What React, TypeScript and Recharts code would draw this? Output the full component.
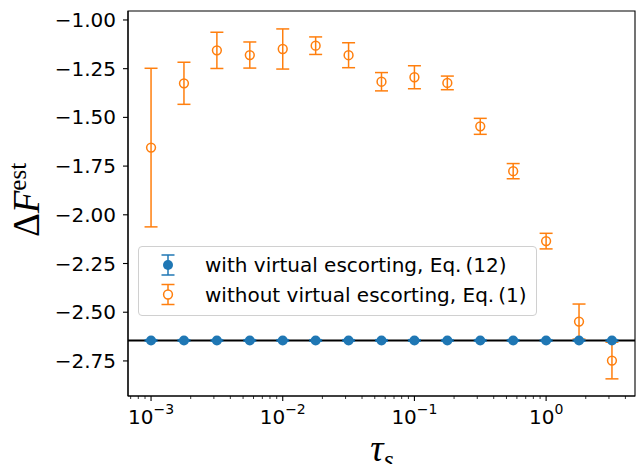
import {
  ScatterChart, Scatter, XAxis, YAxis, ErrorBar, ReferenceLine, ReferenceArea,
} from "recharts";

const BLUE = "#1f77b4";
const ORANGE = "#ff7f0e";

// tau_s sample points (log-spaced quarter decades)
const TAU = [0.001, 0.001778, 0.003162, 0.005623, 0.01, 0.01778, 0.03162, 0.05623, 0.1, 0.1778, 0.3162, 0.5623, 1, 1.778, 3.162];
const WITH_MEAN = [-2.645, -2.645, -2.645, -2.645, -2.645, -2.645, -2.645, -2.645, -2.645, -2.645, -2.645, -2.645, -2.645, -2.645, -2.645];
const WITH_ERR = [0.004, 0.004, 0.004, 0.004, 0.004, 0.004, 0.004, 0.004, 0.004, 0.004, 0.004, 0.004, 0.004, 0.004, 0.004];
const WITHOUT_MEAN = [-1.655, -1.325, -1.156, -1.18, -1.149, -1.132, -1.181, -1.317, -1.294, -1.323, -1.546, -1.776, -2.135, -2.548, -2.748];
const WITHOUT_ERR = [0.407, 0.108, 0.093, 0.067, 0.103, 0.045, 0.064, 0.047, 0.059, 0.035, 0.041, 0.039, 0.04, 0.09, 0.094];
const EXACT = -2.645;

const MAJOR_TICKS = [0.001, 0.01, 0.1, 1];
const MAJOR_EXP = ["\u22123", "\u22122", "\u22121", "0"];
const Y_TICKS = [-2.75, -2.5, -2.25, -2.0, -1.75, -1.5, -1.25, -1.0];

const X_MIN = Math.pow(10, -3.175);
const X_MAX = Math.pow(10, 0.675);
const Y_MIN = -2.93;
const Y_MAX = -0.954;

// minor log ticks 2..9 x 10^k inside the domain
const MINOR_TICKS: number[] = [];
for (let k = -4; k <= 0; k++) {
  for (let m = 2; m <= 9; m++) {
    const v = m * Math.pow(10, k);
    if (v >= X_MIN && v <= X_MAX) MINOR_TICKS.push(v);
  }
}
const X_TICKS = [...MAJOR_TICKS, ...MINOR_TICKS].sort((a, b) => a - b);

const withData = TAU.map((x, i) => ({ x, y: WITH_MEAN[i], err: WITH_ERR[i] }));
const withoutData = TAU.map((x, i) => ({ x, y: WITHOUT_MEAN[i], err: WITHOUT_ERR[i] }));

function XTick(props: any) {
  const { x, y, payload } = props;
  const idx = MAJOR_TICKS.indexOf(payload.value);
  const major = idx >= 0;
  return (
    <g>
      <line x1={x} x2={x} y1={y} y2={y + (major ? 5 : 3)} stroke="#000" strokeWidth={major ? 1.1 : 0.8} />
      {major && (
        <text x={x} y={y + 28} textAnchor="middle" fontSize={20} fontFamily="DejaVu Sans" fill="#000">
          10<tspan dy={-10} fontSize={14}>{MAJOR_EXP[idx]}</tspan>
        </text>
      )}
    </g>
  );
}

const FilledDot = (p: any) => <circle cx={p.cx} cy={p.cy} r={5} fill={BLUE} />;
const OpenDot = (p: any) => <circle cx={p.cx} cy={p.cy} r={4.4} fill="none" stroke={ORANGE} strokeWidth={1.5} />;

function Legend() {
  const rows = [
    { color: BLUE, filled: true, label: "with virtual escorting, Eq.\u2009(12)", cy: 18 },
    { color: ORANGE, filled: false, label: "without virtual escorting, Eq.\u2009(1)", cy: 47.5 },
  ];
  return (
    <div style={{
      position: "absolute", left: 138, top: 246, width: 397, height: 68,
      border: "1px solid #d0d0d0", borderRadius: 4, background: "rgba(255,255,255,0.8)",
    }}>
      <svg width={397} height={68} style={{ display: "block" }}>
        {rows.map((r) => (
          <g key={r.label}>
            <line x1={29} x2={29} y1={r.cy - 10} y2={r.cy + 10} stroke={r.color} strokeWidth={1.5} />
            <line x1={22.5} x2={35.5} y1={r.cy - 10} y2={r.cy - 10} stroke={r.color} strokeWidth={1.5} />
            <line x1={22.5} x2={35.5} y1={r.cy + 10} y2={r.cy + 10} stroke={r.color} strokeWidth={1.5} />
            <circle cx={29} cy={r.cy} r={r.filled ? 5 : 4.4} fill={r.filled ? r.color : "white"}
              stroke={r.filled ? "none" : r.color} strokeWidth={1.5} />
            <text x={66} y={r.cy + 7} fontSize={20} fontFamily="DejaVu Sans" fill="#000">{r.label}</text>
          </g>
        ))}
      </svg>
    </div>
  );
}

export default function App() {
  return (
    <div style={{ position: "absolute", left: 0, top: 0, width: 641, height: 464, background: "#fff" }}>
      <ScatterChart width={641} height={464} margin={{ top: 11, right: 6, left: 0, bottom: 0 }}>
        <XAxis
          type="number" dataKey="x" scale="log" domain={[X_MIN, X_MAX]} allowDataOverflow
          ticks={X_TICKS} interval={0} tick={<XTick />} tickLine={false} tickSize={0} tickMargin={0}
          height={68} axisLine={{ stroke: "#000", strokeWidth: 1.1 }}
          label={{
            content: () => (
              <text x={382} y={461} textAnchor="middle" fontFamily="Liberation Serif" fontStyle="italic" fontSize={37} fill="#000">
                τ<tspan dy={7} fontSize={26}>s</tspan>
              </text>
            ),
          }}
        />
        <YAxis
          type="number" dataKey="y" domain={[Y_MIN, Y_MAX]} allowDataOverflow ticks={Y_TICKS}
          width={128} tickSize={5} tickMargin={7} interval={0}
          tickFormatter={(v: number) => v.toFixed(2).replace("-", "\u2212")}
          tick={{ fontSize: 20, fill: "#000", fontFamily: "DejaVu Sans" }}
          tickLine={{ stroke: "#000", strokeWidth: 1.1 }} axisLine={{ stroke: "#000", strokeWidth: 1.1 }}
          label={{
            content: () => (
              <text x={39} y={200} transform="rotate(-90 39 200)" textAnchor="middle" fontFamily="Liberation Serif" fontSize={37} fill="#000">
                Δ<tspan fontStyle="italic">F</tspan><tspan dy={-13} fontSize={25}>est</tspan>
              </text>
            ),
          }}
        />
        <ReferenceArea x1={X_MIN} x2={X_MAX} y1={Y_MIN} y2={Y_MAX} fill="none" stroke="#000" strokeWidth={1.1} fillOpacity={0} />
        <ReferenceLine y={EXACT} stroke="#000" strokeWidth={2} />
        <Scatter data={withoutData} shape={OpenDot} isAnimationActive={false}>
          <ErrorBar dataKey="err" direction="y" width={6.5} stroke={ORANGE} strokeWidth={1.5} />
        </Scatter>
        <Scatter data={withData} shape={FilledDot} isAnimationActive={false}>
          <ErrorBar dataKey="err" direction="y" width={6.5} stroke={BLUE} strokeWidth={1.5} />
        </Scatter>
      </ScatterChart>
      <Legend />
    </div>
  );
}
